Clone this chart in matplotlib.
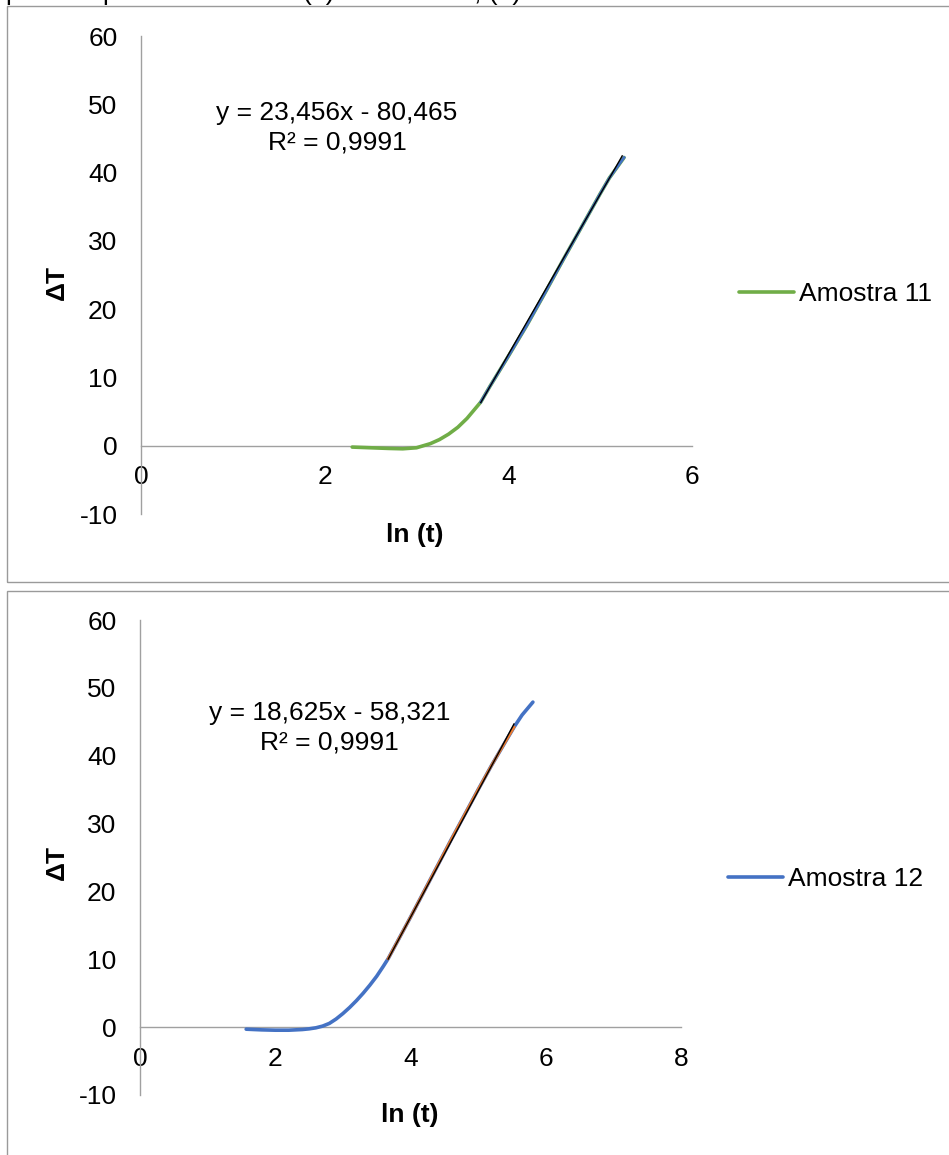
import numpy as np
import matplotlib.pyplot as plt
from matplotlib.patches import Rectangle

plt.rcParams['font.family'] = ['Liberation Sans', 'DejaVu Sans']
plt.rcParams['font.size'] = 19
plt.rcParams['axes.unicode_minus'] = False

# ---- data ----
# Amostra 11 (green), fitted part drawn in blue
x11 = [2.30, 2.50, 2.70, 2.85, 3.00, 3.05, 3.15, 3.25, 3.35, 3.45, 3.55,
       3.65, 3.70, 3.80, 3.90, 4.00, 4.20, 4.40, 4.60, 4.80, 5.00, 5.10,
       5.26]
y11 = [-0.2, -0.3, -0.4, -0.45, -0.3, -0.1, 0.3, 0.9, 1.7, 2.7, 4.0,
       5.6, 6.4, 8.7, 10.9, 13.1, 17.6, 22.4, 27.3, 32.1, 36.9, 39.2,
       42.2]
fit11 = (3.70, 5.26)          # x range of fitted segment
trend11 = (23.456, -80.465)   # slope, intercept from the label
trend11_x = (3.70, 5.24)
eq11 = 'y = 23,456x - 80,465\nR² = 0,9991'

# Amostra 12 (blue), fitted part drawn in orange
x12 = [1.57, 1.80, 2.00, 2.20, 2.40, 2.50, 2.60, 2.70, 2.80, 2.90, 3.00,
       3.10, 3.20, 3.30, 3.40, 3.50, 3.60, 3.67, 3.80, 4.00, 4.20, 4.40,
       4.60, 4.80, 5.00, 5.20, 5.40, 5.53, 5.65, 5.81]
y12 = [-0.3, -0.4, -0.45, -0.45, -0.35, -0.25, -0.1, 0.15, 0.55, 1.2, 2.0,
       2.9, 3.9, 5.0, 6.2, 7.5, 9.0, 10.1, 12.5, 16.2, 20.0, 23.8,
       27.6, 31.3, 35.0, 38.6, 42.0, 44.2, 46.0, 47.9]
fit12 = (3.67, 5.53)
trend12 = (18.625, -58.321)
trend12_x = (3.67, 5.53)
eq12 = 'y = 18,625x - 58,321\nR² = 0,9991'

yticks = list(range(-10, 61, 10))

W, H = 949, 1155
fig = plt.figure(figsize=(W / 100, H / 100), dpi=100)

def fx(px):
    return px / W

def fy(py):
    return 1 - py / H

AXC = '#a0a0a0'

def make_panel(box, xmax, xs, ys, fit, trend, trend_x, main_col, fit_col,
               label, eq, eq_pos, leg_pos, xlab_pos, ylab_pos, border_top):
    # chart border
    fig.patches.append(Rectangle((fx(7), fy(border_top + 576)), 1.2, 576 / H,
                                 transform=fig.transFigure, fill=False,
                                 edgecolor='#9a9a9a', lw=1.0))
    l, t, r, b = box
    ax = fig.add_axes([fx(l), fy(b), fx(r) - fx(l), (b - t) / H])
    ax.set_xlim(0, xmax)
    ax.set_ylim(-10, 60)
    ax.set_xticks(range(0, xmax + 1, 2))
    ax.set_yticks(yticks)
    for s in ['top', 'right']:
        ax.spines[s].set_visible(False)
    ax.spines['bottom'].set_position(('data', 0))
    for s in ['left', 'bottom']:
        ax.spines[s].set_color(AXC)
        ax.spines[s].set_linewidth(1.0)
    ax.tick_params(axis='x', length=0, pad=14, labelsize=19)
    ax.tick_params(axis='y', length=0, pad=17, labelsize=19)
    ax.patch.set_alpha(0)

    xs = np.array(xs)
    ys = np.array(ys)
    main, = ax.plot(xs, ys, color=main_col, lw=2.6, solid_capstyle='round',
                    solid_joinstyle='round', zorder=3)
    m = (xs >= fit[0]) & (xs <= fit[1])
    ax.plot(xs[m], ys[m], color=fit_col, lw=2.0, solid_joinstyle='round',
            zorder=4)
    tx = np.array(trend_x)
    ax.plot(tx, trend[0] * tx + trend[1], color='black', lw=1.0, zorder=5)

    ax.text(eq_pos[0], eq_pos[1], eq, transform=ax.transAxes, ha='center',
            va='center', multialignment='center', fontsize=19,
            linespacing=1.3)
    ax.legend(handles=[main], labels=[label], loc='center left',
              bbox_to_anchor=(fx(leg_pos[0]), fy(leg_pos[1])),
              bbox_transform=fig.transFigure, frameon=False, borderpad=0,
              borderaxespad=0, handlelength=2.08, handletextpad=0.2,
              fontsize=19)
    fig.text(fx(xlab_pos[0]), fy(xlab_pos[1]), 'ln (t)', ha='center',
             va='center', fontsize=19, fontweight='bold')
    fig.text(fx(ylab_pos[0]), fy(ylab_pos[1]), 'ΔT', ha='center',
             va='center', rotation=90, fontsize=19, fontweight='bold')
    return ax

make_panel((141, 36, 692, 514), 6, x11, y11, fit11, trend11, trend11_x,
           '#70AD47', '#4472C4', 'Amostra 11', eq11, (0.3557, 0.8075),
           (739, 294), (415, 535), (57, 282), 6)

make_panel((140, 620, 681, 1095), 8, x12, y12, fit12, trend12, trend12_x,
           '#4472C4', '#ED7D31', 'Amostra 12', eq12, (0.350, 0.7726),
           (728, 879), (410, 1115), (57, 862), 591)

# caption line above, cut off by the top edge (as in the source image)
for px, s in [(5, 'p'), (102, 'p'), (302, '(a)'), (474, ', (b)')]:
    fig.text(fx(px), 1.0, s, ha='left', va='baseline', fontsize=19)

fig.savefig('out.png', dpi=100)
